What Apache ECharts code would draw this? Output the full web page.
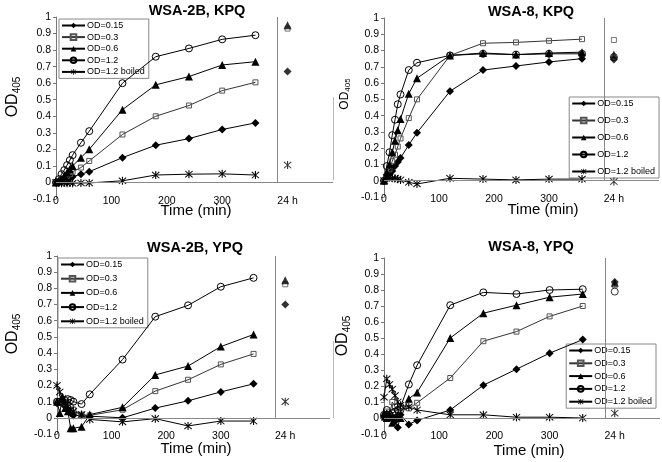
<!DOCTYPE html>
<html>
<head>
<meta charset="utf-8">
<script src="https://cdn.jsdelivr.net/npm/echarts@6/dist/echarts.min.js"></script>
<style>html,body{margin:0;padding:0;background:#fff}#c{width:662px;height:462px}</style>
</head>
<body>
<div id="c"></div>
<script>
// ---- data ----
const time = [0, 5, 10, 15, 20, 25, 30, 45, 60, 120, 180, 240, 300, 360];
const dayX = 418; // position of the "24 h" readings on the time axis
const xTickValues = [0, 100, 200, 300, 418];
const xTickLabels = ['0', '100', '200', '300', '24 h'];
const seriesNames = ['OD=0.15', 'OD=0.3', 'OD=0.6', 'OD=1.2', 'OD=1.2 boiled'];
const panelTitles = ['WSA-2B, KPQ', 'WSA-8, KPQ', 'WSA-2B, YPQ', 'WSA-8, YPQ'];

// WSA-2B, KPQ
const kpq2B_015 = [0, 0.005, 0.01, 0.015, 0.02, 0.028, 0.035, 0.05, 0.065, 0.15, 0.225, 0.265, 0.32, 0.36];
const kpq2B_03  = [0, 0.008, 0.015, 0.025, 0.04, 0.05, 0.065, 0.09, 0.13, 0.29, 0.40, 0.465, 0.555, 0.605];
const kpq2B_06  = [0, 0.01, 0.02, 0.04, 0.06, 0.08, 0.10, 0.15, 0.20, 0.44, 0.59, 0.64, 0.71, 0.73];
const kpq2B_12  = [0, 0.02, 0.05, 0.075, 0.105, 0.135, 0.165, 0.24, 0.31, 0.60, 0.76, 0.81, 0.865, 0.89];
const kpq2B_b   = [0, 0, -0.005, 0, -0.005, 0, -0.005, -0.003, -0.003, 0.01, 0.045, 0.05, 0.052, 0.045];
const kpq2B_24h = [0.67, 0.93, 0.95, null, 0.105];

// WSA-8, KPQ
const kpq8_015 = [0, 0.02, 0.04, 0.06, 0.09, 0.115, 0.14, 0.22, 0.295, 0.55, 0.68, 0.705, 0.73, 0.75];
const kpq8_03  = [0, 0.03, 0.07, 0.12, 0.16, 0.21, 0.26, 0.385, 0.50, 0.77, 0.845, 0.85, 0.86, 0.87];
const kpq8_06  = [0, 0.05, 0.10, 0.175, 0.245, 0.31, 0.38, 0.535, 0.63, 0.77, 0.785, 0.775, 0.785, 0.79];
const kpq8_12  = [0, 0.09, 0.175, 0.28, 0.375, 0.47, 0.53, 0.68, 0.725, 0.77, 0.78, 0.775, 0.78, 0.78];
const kpq8_b   = [0, 0.02, 0.02, 0.015, 0.015, 0.01, 0.005, -0.01, -0.02, 0.015, 0.01, 0.005, 0.01, 0.01];
const kpq8_24h = [0.745, 0.865, 0.775, 0.76, -0.005];

// WSA-2B, YPQ
const ypq2B_015 = [0.09, 0.10, 0.09, 0.07, 0.05, 0.03, 0.015, 0.015, 0.01, 0.0, 0.06, 0.105, 0.16, 0.21];
const ypq2B_03  = [0.095, 0.10, 0.095, 0.09, 0.08, 0.07, 0.05, 0.02, 0.015, 0.05, 0.165, 0.235, 0.33, 0.395];
const ypq2B_06  = [0.10, 0.03, 0.13, 0.06, 0.04, -0.065, -0.065, -0.055, 0.02, 0.065, 0.265, 0.32, 0.44, 0.515];
const ypq2B_12  = [0.10, 0.10, 0.10, 0.105, 0.115, 0.11, 0.10, 0.085, 0.145, 0.36, 0.625, 0.695, 0.81, 0.865];
const ypq2B_b   = [0.20, 0.16, 0.12, 0.09, 0.07, 0.05, 0.04, 0.02, -0.01, -0.025, -0.005, -0.05, -0.02, -0.02];
const ypq2B_24h = [0.70, 0.825, 0.85, null, 0.10];

// WSA-8, YPQ
const ypq8_015 = [0, 0.02, 0, 0.01, -0.02, -0.06, 0.02, -0.04, -0.015, 0.05, 0.205, 0.305, 0.405, 0.49];
const ypq8_03  = [0, 0.04, 0.02, 0.10, 0.07, 0.05, 0.06, 0.06, 0.095, 0.25, 0.48, 0.54, 0.635, 0.70];
const ypq8_06  = [0.03, 0, 0.02, -0.03, 0, 0.02, 0, 0.12, 0.16, 0.50, 0.655, 0.705, 0.755, 0.775];
const ypq8_12  = [0.02, 0.05, 0.02, 0.03, 0.04, 0.05, 0.07, 0.21, 0.33, 0.705, 0.785, 0.775, 0.80, 0.805];
const ypq8_b   = [0.13, 0.245, 0.21, 0.18, 0.14, 0.10, 0.08, 0.07, 0.05, 0.02, 0.02, 0.005, 0.005, 0.0];
const ypq8_24h = [0.85, 0.83, 0.845, 0.79, 0.03];

const panelValues = [
  [kpq2B_015, kpq2B_03, kpq2B_06, kpq2B_12, kpq2B_b],
  [kpq8_015, kpq8_03, kpq8_06, kpq8_12, kpq8_b],
  [ypq2B_015, ypq2B_03, ypq2B_06, ypq2B_12, ypq2B_b],
  [ypq8_015, ypq8_03, ypq8_06, ypq8_12, ypq8_b]
];
const panelDay = [kpq2B_24h, kpq8_24h, ypq2B_24h, ypq8_24h];

// ---- styling ----
const FONT = 'Liberation Sans, Arial, Helvetica, sans-serif';
const STAR = 'path://M4.4,0H5.6V10H4.4Z M0.6,1.4L1.4,0.6L9.4,8.6L8.6,9.4Z M8.6,0.6L9.4,1.4L1.4,9.4L0.6,8.6Z';
const markers = [
  { symbol: 'diamond', size: 8, item: { color: '#000', borderWidth: 0 } },
  { symbol: 'rect', size: 5, item: { color: 'rgba(255,255,255,0)', borderColor: '#555', borderWidth: 1 } },
  { symbol: 'triangle', size: 8, item: { color: '#000', borderWidth: 0 } },
  { symbol: 'circle', size: 7, item: { color: 'rgba(255,255,255,0)', borderColor: '#000', borderWidth: 1 } },
  { symbol: STAR, size: 8, item: { color: '#000', borderWidth: 0 } }
];
const lineColors = ['#000', '#333', '#000', '#000', '#000'];

const grids = [
  { left: 56, top: 17, width: 277, height: 182 },
  { left: 384, top: 18, width: 275, height: 179 },
  { left: 57, top: 256, width: 273, height: 178 },
  { left: 384, top: 258, width: 276, height: 176 }
];
const legendPos = [
  { left: 59, top: 19, gap: 2.6 },
  { right: 3, top: 97, gap: 8 },
  { left: 58, top: 258, gap: 5.2 },
  { right: 6, top: 344, gap: 3.8 }
];
const titlePos = [[197, 11], [531, 12], [195, 248], [531, 247]];
const xNamePos = [[196, 211], [543, 210], [196, 449], [529, 451]];
const yNamePos = [[13, 97, 16, 10], [345, 94, 12, 8], [13, 334, 16, 10], [343, 336, 16, 10]];

const xAxes = [], yAxes = [], series = [], legends = [], graphics = [];
grids.forEach((g, p) => {
  xAxes.push({
    type: 'value', gridIndex: p, min: 0, max: 500,
    axisLine: { show: false, onZero: false },
    axisTick: { show: false },
    splitLine: { show: false },
    axisLabel: {
      customValues: xTickValues,
      formatter: v => { const i = xTickValues.indexOf(v); return i >= 0 ? xTickLabels[i] : ''; },
      fontFamily: FONT, fontSize: 10.5, color: '#000', margin: -3
    }
  });
  yAxes.push({
    type: 'value', gridIndex: p, min: -0.1, max: 1, interval: 0.1,
    axisLine: { show: true, onZero: false, lineStyle: { color: '#777', width: 1 } },
    axisTick: { show: true, length: 3, lineStyle: { color: '#777' } },
    splitLine: { show: false },
    axisLabel: { fontFamily: FONT, fontSize: 10.5, color: '#000', margin: 5 }
  });
  const vals = panelValues[p];
  const day = panelDay[p];
  for (let k = 0; k < 5; k++) {
    const m = markers[k];
    const s = {
      name: seriesNames[k], type: 'line', xAxisIndex: p, yAxisIndex: p,
      data: time.map((t, i) => [t, vals[k][i]]),
      symbol: m.symbol, symbolSize: m.size, showSymbol: true,
      itemStyle: m.item,
      lineStyle: { color: lineColors[k], width: 1 },
      z: 3
    };
    if (k === 0) {
      s.markLine = {
        silent: true, symbol: 'none', animation: false, label: { show: false },
        lineStyle: { color: '#888', type: 'solid', width: 1 },
        data: [ { yAxis: 0 }, [ { coord: [400, 1] }, { coord: [400, 0] } ] ]
      };
    }
    series.push(s);
    if (day[k] !== null) {
      series.push({
        name: seriesNames[k] + ' (24 h)', type: 'scatter', xAxisIndex: p, yAxisIndex: p,
        data: [[dayX, day[k]]], symbol: m.symbol, symbolSize: m.size,
        itemStyle: m.item, z: 3
      });
    }
  }
  const lp = legendPos[p];
  const lg = {
    data: seriesNames, orient: 'vertical', top: lp.top,
    itemGap: lp.gap, itemWidth: 23, itemHeight: 7,
    padding: [2, 4, 2, 2],
    borderColor: '#888', borderWidth: 1, backgroundColor: '#fff',
    textStyle: { fontFamily: FONT, fontSize: 9, lineHeight: 9, color: '#000', padding: [0, 0, 0, -3] },
    selectedMode: false, z: 2
  };
  if (lp.left !== undefined) lg.left = lp.left; else lg.right = lp.right;
  legends.push(lg);
  graphics.push({
    type: 'text', x: titlePos[p][0], y: titlePos[p][1],
    style: { text: panelTitles[p], fontFamily: FONT, fontSize: 14.5, fontWeight: 'bold', fill: '#000', align: 'center', verticalAlign: 'middle' }
  });
  graphics.push({
    type: 'text', x: xNamePos[p][0], y: xNamePos[p][1],
    style: { text: 'Time (min)', fontFamily: FONT, fontSize: 15, fill: '#000', align: 'center', verticalAlign: 'middle' }
  });
  const yn = yNamePos[p];
  graphics.push({
    type: 'text', x: yn[0], y: yn[1], rotation: Math.PI / 2,
    style: {
      text: '{a|OD}{b|405}', align: 'center', verticalAlign: 'middle', fill: '#000',
      rich: {
        a: { fontFamily: FONT, fontSize: yn[2], lineHeight: yn[2] + 2, verticalAlign: 'middle', fill: '#000' },
        b: { fontFamily: FONT, fontSize: yn[3], lineHeight: yn[3], verticalAlign: 'bottom', fill: '#000' }
      }
    }
  });
});

// faint frame remnants at the left edge of the right-hand panels
graphics.push({ type: 'line', shape: { x1: 333.5, y1: 97, x2: 333.5, y2: 180 }, style: { stroke: '#bbb', lineWidth: 1 } });
graphics.push({ type: 'line', shape: { x1: 333.5, y1: 341, x2: 333.5, y2: 418 }, style: { stroke: '#bbb', lineWidth: 1 } });

const chart = echarts.init(document.getElementById('c'), null, { renderer: 'canvas' });
chart.setOption({
  animation: false,
  backgroundColor: '#fff',
  grid: grids,
  xAxis: xAxes,
  yAxis: yAxes,
  legend: legends,
  series: series,
  graphic: graphics
});
</script>
</body>
</html>
